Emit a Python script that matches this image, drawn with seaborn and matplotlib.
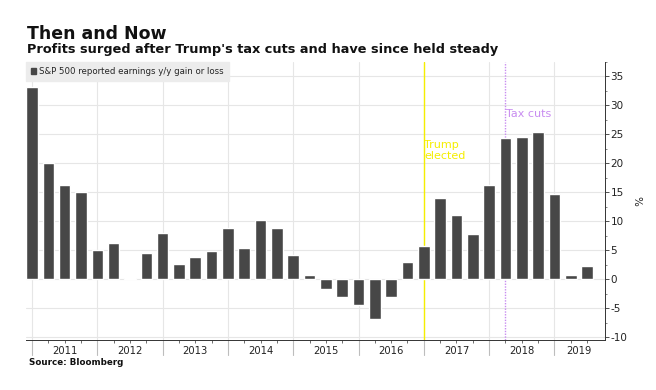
import matplotlib
matplotlib.use("Agg")
from matplotlib import pyplot as plt
from matplotlib import transforms
from matplotlib.patches import Patch
import seaborn as sns

quarters = ["4Q10",
            "1Q11", "2Q11", "3Q11", "4Q11",
            "1Q12", "2Q12", "3Q12", "4Q12",
            "1Q13", "2Q13", "3Q13", "4Q13",
            "1Q14", "2Q14", "3Q14", "4Q14",
            "1Q15", "2Q15", "3Q15", "4Q15",
            "1Q16", "2Q16", "3Q16", "4Q16",
            "1Q17", "2Q17", "3Q17", "4Q17",
            "1Q18", "2Q18", "3Q18", "4Q18",
            "1Q19", "2Q19"]
earnings = [33.2,
            20.0, 16.3, 15.0, 5.0,
            6.2, 0.2, 4.6, 8.0,
            2.7, 3.8, 4.9, 8.8,
            5.4, 10.3, 8.8, 4.2,
            0.7, -1.7, -3.0, -4.5,
            -6.8, -3.0, 3.0, 5.8,
            14.0, 11.0, 7.8, 16.2,
            24.3, 24.5, 25.4, 14.7,
            0.8, 2.2]
year_labels = ["2011", "2012", "2013", "2014", "2015", "2016", "2017", "2018", "2019"]
year_starts = ["4Q10", "4Q11", "4Q12", "4Q13", "4Q14", "4Q15", "4Q16", "4Q17", "4Q18"]
y_ticks = [-10, -5, 0, 5, 10, 15, 20, 25, 30, 35]

bar_color = "#474747"
grid_color = "#e6e6e6"
yellow = "#f5ee00"
purple = "#c88cf0"

sns.set_theme(style="white")
plt.rcParams["font.family"] = ["DejaVu Sans"]
plt.rcParams["axes.unicode_minus"] = False

fig = plt.figure(figsize=(6.56, 3.90), dpi=100)
ax = fig.add_axes([26 / 656, 1 - 340 / 390, (605 - 26) / 656, (340 - 62) / 390])

sns.barplot(x=quarters, y=earnings, order=quarters, color=bar_color, saturation=1,
            width=0.71, ax=ax, zorder=2)

n = len(quarters)
ax.set_xlim(-0.37, 35.1)
ax.set_ylim(-10.5, 36.9)

# grid
for v in y_ticks:
    ax.axhline(v, color=grid_color, lw=0.8, zorder=0)
starts = [quarters.index(q) for q in year_starts]
for s in starts:
    ax.axvline(s, color=grid_color, lw=0.8, zorder=0)

# event lines
trump = quarters.index("4Q16")
tax = quarters.index("1Q18")
ax.axvline(trump, color=yellow, lw=1.0, zorder=1)
ax.axvline(tax, color=purple, lw=1.0, ls=(0, (1, 1)), zorder=1)
ax.text(trump + 0.02, 24.0, "Trump\nelected", color=yellow, fontsize=8,
        ha="left", va="top", multialignment="left", linespacing=1.05, zorder=3)
ax.text(tax + 0.02, 29.4, "Tax cuts", color=purple, fontsize=8,
        ha="left", va="top", zorder=3)

# x axis: quarter ticks, year separators, year labels
ax.xaxis.remove_overlapping_locs = False
ax.set_xticks(range(n))
ax.set_xticklabels([])
ax.tick_params(axis="x", which="major", direction="out", length=2.5, width=0.6,
               color="#555555", bottom=True)
centers = [s + 2 for s in starts[:-1]] + [starts[-1] + 1.5]
ax.set_xticks(centers, minor=True)
ax.set_xticklabels(year_labels, minor=True)
ax.tick_params(axis="x", which="minor", length=0, pad=4, labelsize=7.2,
               labelcolor="#222222")
trans = transforms.blended_transform_factory(ax.transData, ax.transAxes)
for s in starts:
    ax.plot([s, s], [0, -0.055], color="#bdbdbd", lw=0.8, transform=trans,
            clip_on=False, zorder=1)

# y axis on right
ax.yaxis.tick_right()
ax.yaxis.set_label_position("right")
ax.set_yticks(y_ticks)
ax.set_yticks([v + 2.5 for v in y_ticks], minor=True)
ax.tick_params(axis="y", which="major", direction="out", length=3, width=0.6,
               color="#333333", labelsize=7.5, labelcolor="#222222", pad=1, right=True)
ax.tick_params(axis="y", which="minor", direction="out", length=1.5, width=0.5,
               color="#555555", right=True)
ax.set_ylabel("%", rotation=270, fontsize=7.5, labelpad=10, color="#222222")

for side in ["top", "left"]:
    ax.spines[side].set_visible(False)
ax.spines["right"].set_color("#333333")
ax.spines["right"].set_linewidth(0.7)
ax.spines["bottom"].set_color("#333333")
ax.spines["bottom"].set_linewidth(0.7)

leg = ax.legend(handles=[Patch(color=bar_color, label="S&P 500 reported earnings y/y gain or loss")],
                loc="upper left", bbox_to_anchor=(0, 1), borderaxespad=0, frameon=True,
                fancybox=False, facecolor="#ececec", edgecolor="#ececec", framealpha=1,
                fontsize=6.2, handlelength=0.6, handleheight=0.6, handletextpad=0.3,
                borderpad=0.6)
leg.set_zorder(5)

fig.text(27 / 656, 1 - 39 / 390, "Then and Now", fontsize=12.5, fontweight="bold",
         color="#111111")
fig.text(27 / 656, 1 - 53 / 390, "Profits surged after Trump's tax cuts and have since held steady",
         fontsize=9.25, fontweight="bold", color="#111111")
fig.text(29 / 656, 1 - 365 / 390, "Source: Bloomberg", fontsize=6.3, fontweight="bold",
         color="#111111")

fig.savefig("out.png", dpi=100)
